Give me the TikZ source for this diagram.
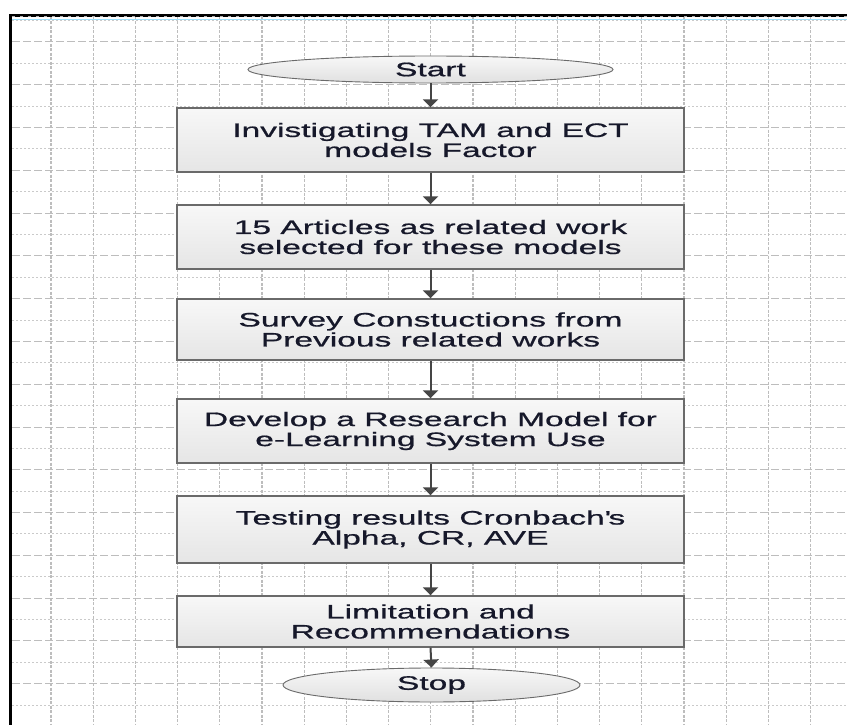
\documentclass[tikz,border=0pt]{standalone}
\usepackage{fontspec}
\usetikzlibrary{shapes.geometric,arrows.meta,shadows}
\newfontfamily\boxfont[FakeStretch=1.72,FakeBold=0.8]{Liberation Sans}
\definecolor{gridc}{HTML}{BDBDBD}
\definecolor{boxline}{HTML}{6A6A6A}
\definecolor{arrowc}{HTML}{454545}
\definecolor{txtc}{HTML}{16182A}
\tikzset{
  stepbox/.style={rectangle, draw=boxline, line width=1.4pt,
    top color=white!97!black, bottom color=white!90!black,
    minimum width=507pt, inner sep=0pt, align=center,
    font=\boxfont\fontsize{19.5}{20}\selectfont, text=txtc,
    general shadow={fill=black!45, shadow xshift=1.3pt, shadow yshift=-1.3pt}},
  termbox/.style={ellipse, draw=boxline, line width=0.9pt,
    top color=white!97!black, bottom color=white!88!black,
    inner sep=0pt, align=center,
    font=\boxfont\fontsize{19.5}{20}\selectfont, text=txtc},
  flowarrow/.style={draw=arrowc, line width=2pt, -{Triangle[width=15pt,length=8pt]}},
  gridmajor/.style={draw=gridc, line width=1pt, dash pattern=on 8pt off 3pt},
  gridminor/.style={draw=gridc!80, line width=1pt, dash pattern=on 2pt off 2pt},
  gridvert/.style={draw=gridc, line width=1.2pt, dash pattern=on 3pt off 1.5pt}
}
\begin{document}
\begin{tikzpicture}[x=1pt,y=-1pt]
\useasboundingbox (0,0) rectangle (847,725);
\fill[white] (0,0) rectangle (847,725);
% grid
\foreach \k in {0,...,32}{
  \pgfmathsetmacro{\yy}{20.6+21.39*\k}
  \pgfmathtruncatemacro{\odd}{mod(\k,2)}
  \ifnum\odd=1
    \draw[gridmajor] (12,\yy) -- (847,\yy);
  \else
    \draw[gridminor] (12,\yy) -- (847,\yy);
  \fi
}
\foreach \k in {1,...,19}{
  \pgfmathsetmacro{\xx}{8.8+42.2*\k}
  \draw[gridvert] (\xx,17) -- (\xx,725);
}
% frame
\draw[draw=blue!30!cyan!40, line width=1pt] (12,19.3) -- (847,19.3);
\fill[black] (9,13.8) rectangle (847,17);
\draw[white!70!black, line width=0.8pt, dash pattern=on 3pt off 5pt] (12,16.2) -- (847,16.2);
\fill[black] (9,13.8) rectangle (12.2,725);
% nodes
\node[termbox, minimum width=365pt, minimum height=27pt] (start) at (430.5,69.5) {Start};
\node[stepbox, minimum height=64pt] (b1) at (430.5,140) {Invistigating TAM and ECT\\models Factor};
\node[stepbox, minimum height=64pt] (b2) at (430.5,237) {15 Articles as related work\\selected for these models};
\node[stepbox, minimum height=61pt] (b3) at (430.5,329.5) {Survey Constuctions from\\Previous related works};
\node[stepbox, minimum height=64pt] (b4) at (430.5,431) {Develop a Research Model for\\e-Learning System Use};
\node[stepbox, minimum height=67pt] (b5) at (430.5,529.5) {Testing results Cronbach\textquotesingle s\\Alpha, CR, AVE};
\node[stepbox, minimum height=51pt] (b6) at (430.5,621.5) {Limitation and\\Recommendations};
\node[termbox, minimum width=297pt, minimum height=34pt] (stop) at (431.5,685) {Stop};
% connectors
\draw[flowarrow] (start.south) -- (b1.north);
\draw[flowarrow] (b1.south) -- (b2.north);
\draw[flowarrow] (b2.south) -- (b3.north);
\draw[flowarrow] (b3.south) -- (b4.north);
\draw[flowarrow] (b4.south) -- (b5.north);
\draw[flowarrow] (b5.south) -- (b6.north);
\draw[flowarrow] (b6.south) -- (stop.north);
\end{tikzpicture}
\end{document}
